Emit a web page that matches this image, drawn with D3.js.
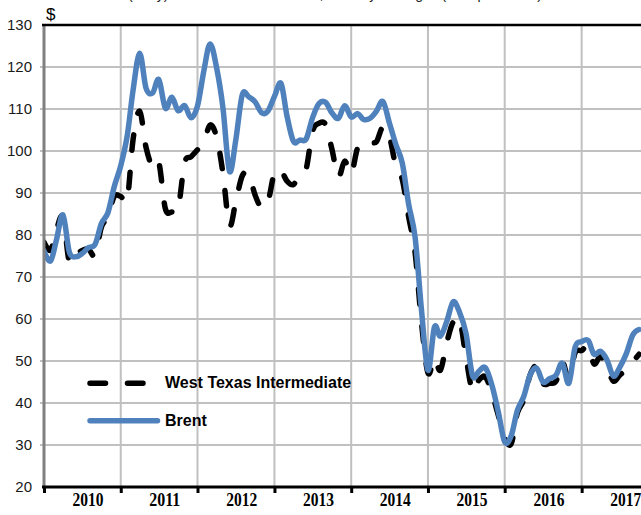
<!DOCTYPE html>
<html>
<head>
<meta charset="utf-8">
<script src="https://cdn.jsdelivr.net/npm/d3@7"></script>
<style>
  body { margin: 0; background: #fff; }
  svg { display: block; font-family: "Liberation Sans", Arial, sans-serif; }
</style>
</head>
<body>
<div id="chart"></div>
<script>
/*
  DATA - monthly averages, Jan 2010 onward
*/
var years = ["2010", "2011", "2012", "2013", "2014", "2015", "2016", "2017"];
var yTicks = [20, 30, 40, 50, 60, 70, 80, 90, 100, 110, 120, 130];

var wti = [
  78.3, 76.4, 81.2, 84.3, 73.7, 75.3, 76.3, 76.6, 75.2, 81.9, 84.3, 89.2,
  89.2, 88.6, 102.9, 109.5, 100.9, 96.3, 97.3, 86.3, 85.5, 86.3, 97.2, 98.6,
  100.3, 102.2, 106.2, 103.3, 94.7, 82.3, 87.9, 94.1, 94.5, 89.5, 86.5, 87.9,
  94.8, 95.3, 92.9, 92.0, 94.5, 95.8, 104.7, 106.6, 106.3, 100.5, 93.9, 97.6,
  94.6, 100.8, 100.8, 102.1, 102.2, 105.8, 103.6, 96.5, 93.2, 84.4, 75.8, 59.3,
  47.2, 50.6, 47.8, 54.5, 59.3, 59.8, 50.9, 42.9, 45.5, 46.2, 42.4, 37.2,
  31.7, 30.3, 37.6, 40.8, 46.7, 48.8, 44.7, 44.7, 45.2, 49.8, 45.7, 52.0,
  52.5, 53.5, 49.3, 51.1, 48.5, 45.2, 46.6, 48.0, 49.8, 51.6
];

var brent = [
  76.2, 73.8, 78.8, 84.8, 76.0, 74.8, 75.6, 77.0, 77.8, 82.7, 85.3, 91.5,
  96.5, 103.7, 114.6, 123.3, 115.0, 113.8, 117.0, 110.2, 112.8, 109.6, 110.8, 107.9,
  110.7, 119.3, 125.5, 119.8, 110.3, 95.2, 102.6, 113.4, 112.9, 111.7, 109.1, 109.5,
  113.0, 116.1, 108.5, 102.3, 102.6, 102.9, 107.9, 111.3, 111.6, 109.1, 107.8, 110.8,
  108.1, 108.9, 107.5, 107.8, 109.5, 111.8, 106.8, 101.6, 97.1, 87.4, 79.4, 62.3,
  47.8, 58.1, 55.9, 59.5, 64.1, 61.5, 56.6, 46.5, 47.6, 48.4, 44.3, 38.0,
  30.7, 32.2, 38.2, 41.6, 46.7, 48.3, 45.0, 45.8, 46.6, 49.5, 44.7, 53.3,
  54.6, 54.9, 51.6, 52.3, 50.3, 46.4, 48.5, 51.7, 56.2, 57.5
];

var series = [
  {name: "West Texas Intermediate", values: wti, color: "#000000", dash: "15.5,22"},
  {name: "Brent", values: brent, color: "#4F81BD", dash: null}
];

/*
  LAYOUT
*/
var width = 641;
var height = 515;
var plotLeft = 44, plotTop = 25, plotBottom = 487;
var yearWidth = 76.8;
var plotRight = plotLeft + yearWidth * years.length;

var svg = d3.select("#chart")
  .append("svg")
    .attr("width", width)
    .attr("height", height);

var x = d3.scaleTime()
  .domain([new Date(+years[0], 0, 1), new Date(+years[years.length - 1] + 1, 0, 1)])
  .range([plotLeft, plotRight]);

var y = d3.scaleLinear()
  .domain([20, 130])
  .range([plotBottom, plotTop]);

var monthDate = (d, i) => new Date(+years[0], i, 1);

// title, mostly cut off at the top edge
svg.append("text")
  .attr("x", 335)
  .attr("y", -1)
  .attr("text-anchor", "middle")
  .style("font-size", "14px")
  .style("fill", "#222")
  .text("(Daily) Brent and WTI crude oil, monthly averages (US$ per barrel)");

// horizontal grid
svg.append("g")
  .selectAll("line")
  .data(yTicks.filter(v => v > 20 && v < 130))
  .enter()
  .append("line")
    .attr("x1", plotLeft - 4)
    .attr("x2", width)
    .attr("y1", d => y(d))
    .attr("y2", d => y(d))
    .attr("stroke", "#c0c0c0")
    .attr("stroke-width", 2);

// vertical grid at year boundaries
var yearStarts = years.map(yr => new Date(+yr, 0, 1)).slice(1);
svg.append("g")
  .selectAll("line")
  .data(yearStarts)
  .enter()
  .append("line")
    .attr("x1", d => x(d))
    .attr("x2", d => x(d))
    .attr("y1", plotTop)
    .attr("y2", plotBottom)
    .attr("stroke", "#c0c0c0")
    .attr("stroke-width", 2);

// y tick labels
svg.append("g")
  .selectAll("text")
  .data(yTicks)
  .enter()
  .append("text")
    .attr("x", 32)
    .attr("y", d => y(d))
    .attr("dy", "0.35em")
    .attr("text-anchor", "end")
    .style("font-size", "15px")
    .style("fill", "#1a1a1a")
    .text(d => d);

svg.append("text")
  .attr("x", 46)
  .attr("y", 20)
  .style("font-size", "17px")
  .style("fill", "#000")
  .text("$");

/*
  LINES
*/
var line = d3.line()
  .x((d, i) => x(monthDate(d, i)))
  .y(d => y(d))
  .curve(d3.curveCatmullRom.alpha(0));

svg.append("clipPath")
    .attr("id", "plot-clip")
  .append("rect")
    .attr("x", plotLeft)
    .attr("y", plotTop)
    .attr("width", plotRight - plotLeft)
    .attr("height", plotBottom - plotTop);

svg.append("g")
  .attr("clip-path", "url(#plot-clip)")
  .selectAll("path")
  .data(series)
  .enter()
  .append("path")
    .attr("d", d => line(d.values))
    .attr("fill", "none")
    .attr("stroke", d => d.color)
    .attr("stroke-width", 5.5)
    .attr("stroke-linecap", "round")
    .attr("stroke-linejoin", "round")
    .attr("stroke-dasharray", d => d.dash);

/*
  AXES
*/
// left axis
svg.append("line")
  .attr("x1", plotLeft).attr("x2", plotLeft)
  .attr("y1", plotTop).attr("y2", plotBottom)
  .attr("stroke", "#808080")
  .attr("stroke-width", 3);

// top border
svg.append("line")
  .attr("x1", plotLeft - 2).attr("x2", width)
  .attr("y1", plotTop).attr("y2", plotTop)
  .attr("stroke", "#000")
  .attr("stroke-width", 2.5);

// bottom axis with ticks
var xAxis = d3.axisBottom(x)
  .tickValues(years.map(yr => new Date(+yr, 0, 1)))
  .tickSize(6)
  .tickFormat("");

var gx = svg.append("g")
  .attr("transform", "translate(0," + plotBottom + ")")
  .call(xAxis);
gx.select(".domain").remove();
gx.selectAll(".tick line").attr("stroke", "#000").attr("stroke-width", 3);

svg.append("line")
  .attr("x1", plotLeft - 2).attr("x2", width)
  .attr("y1", plotBottom).attr("y2", plotBottom)
  .attr("stroke", "#000")
  .attr("stroke-width", 3);

// year labels
svg.append("g")
  .selectAll("text")
  .data(years)
  .enter()
  .append("text")
    .attr("x", d => x(new Date(+d, 6, 1)) + 6)
    .attr("y", 506)
    .attr("text-anchor", "middle")
    .attr("textLength", 31)
    .attr("lengthAdjust", "spacingAndGlyphs")
    .style("font-family", "'Liberation Serif', 'Times New Roman', serif")
    .style("font-weight", "bold")
    .style("font-size", "18px")
    .style("fill", "#000")
    .text(d => d);

/*
  LEGEND
*/
var legend = svg.append("g");
var legendRows = [{s: series[0], y: 383.3}, {s: series[1], y: 420.8}];

legend.selectAll("line")
  .data(legendRows)
  .enter()
  .append("line")
    .attr("x1", 90)
    .attr("x2", d => d.s.dash ? 146 : 157.5)
    .attr("y1", d => d.y)
    .attr("y2", d => d.y)
    .attr("stroke", d => d.s.color)
    .attr("stroke-width", 5.5)
    .attr("stroke-linecap", "round")
    .attr("stroke-dasharray", d => d.s.dash);

legend.selectAll("text")
  .data(legendRows)
  .enter()
  .append("text")
    .attr("x", 165)
    .attr("y", d => d.y + 5)
    .style("font-size", "16px")
    .style("font-weight", "bold")
    .style("fill", "#000")
    .text(d => d.s.name);
</script>
</body>
</html>
